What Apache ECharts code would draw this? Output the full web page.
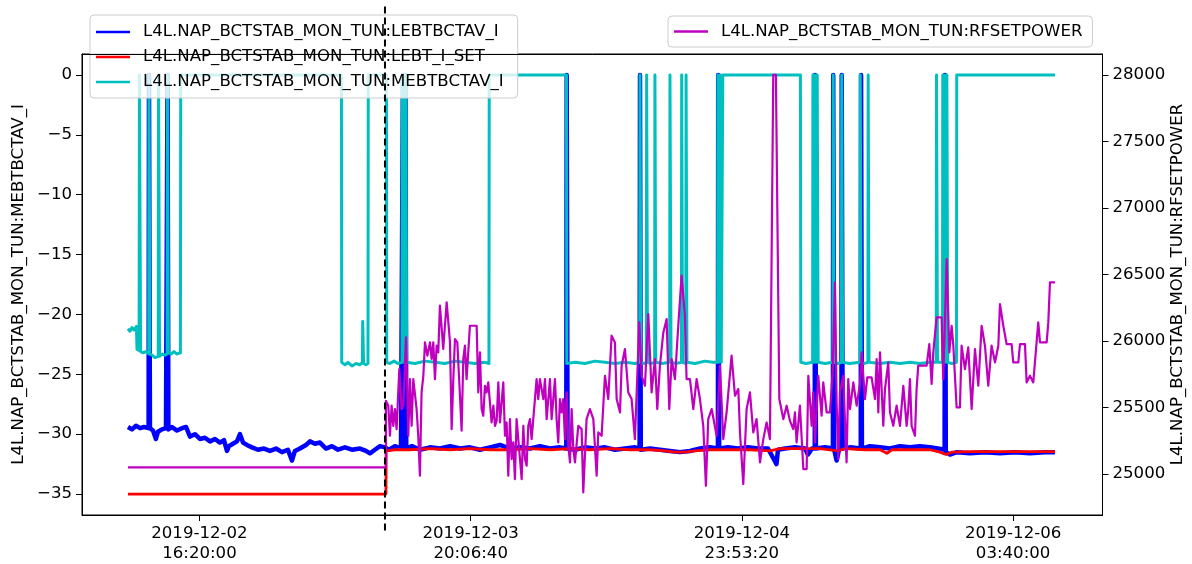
<!DOCTYPE html>
<html>
<head>
<meta charset="utf-8">
<script src="https://cdn.jsdelivr.net/npm/echarts@6.0.0/dist/echarts.min.js"></script>
<style>
html,body{margin:0;padding:0;background:#fff;}
#chart{width:1192px;height:564px;}
</style>
</head>
<body>
<div id="chart"></div>
<script>
// Time unit: hours since 2019-12-02 16:20:00
const T0 = Date.UTC(2019, 11, 2, 16, 20, 0);

const seriesNames = [
  'L4L.NAP_BCTSTAB_MON_TUN:LEBTBCTAV_I',
  'L4L.NAP_BCTSTAB_MON_TUN:LEBT_I_SET',
  'L4L.NAP_BCTSTAB_MON_TUN:MEBTBCTAV_I',
  'L4L.NAP_BCTSTAB_MON_TUN:RFSETPOWER'
];
const leftAxisName = 'L4L.NAP_BCTSTAB_MON_TUN:MEBTBCTAV_I';
const rightAxisName = 'L4L.NAP_BCTSTAB_MON_TUN:RFSETPOWER';

const xTicks = [0, 27.7778, 55.5556, 83.3333];
const leftTicks = [-35, -30, -25, -20, -15, -10, -5, 0];
const rightTicks = [25000, 25500, 26000, 26500, 27000, 27500, 28000];

const xRange = [-12.03, 92.49];
const leftRange = [-36.75, 1.75];
const rightRange = [24692.5, 28157.5];

const dividerT = 19.0;
const dividerSpan = [-38.07, 5.72];

const lebtBctav = [[-7.32,-29.4],[-6.91,-29.6],[-6.50,-29.3],[-6.09,-29.5],[-5.68,-29.4],[-5.21,-29.5],[-5.17,0],[-5.11,0],[-5.07,-29.5],[-4.76,-29.7],[-4.46,-30.4],[-4.25,-29.8],[-3.84,-29.6],[-3.43,-29.5],[-3.30,-29.5],[-3.27,0],[-3.21,0],[-3.18,-29.6],[-2.82,-29.4],[-2.30,-29.7],[-1.79,-29.5],[-1.38,-29.4],[-0.97,-30.2],[-0.46,-30.0],[0.05,-30.4],[0.56,-30.3],[1.08,-30.6],[1.59,-30.4],[2.10,-30.7],[2.51,-30.5],[2.82,-31.4],[3.02,-31.0],[3.43,-30.8],[3.84,-30.6],[4.15,-30.0],[4.46,-30.7],[4.86,-30.9],[5.38,-31.1],[5.99,-31.3],[6.61,-31.2],[7.22,-31.4],[7.84,-31.2],[8.45,-31.5],[9.06,-31.3],[9.47,-32.2],[9.78,-31.4],[10.29,-31.2],[10.91,-30.9],[11.32,-30.6],[11.83,-30.8],[12.34,-30.7],[12.96,-31.2],[13.57,-31.0],[14.19,-31.3],[14.90,-31.1],[15.62,-31.3],[16.44,-31.2],[17.05,-31.4],[17.46,-31.6],[17.97,-31.3],[18.49,-31.0],[19.00,-31.1],[19.41,-31.3],[20.02,-31.0],[20.64,-31.2],[20.82,-31.2],[20.84,0],[20.89,0],[20.92,-31.2],[21.07,-31.2],[21.10,0],[21.15,0],[21.18,-31.2],[21.76,-31.0],[22.58,-31.3],[23.61,-31.1],[24.63,-31.2],[25.66,-31.0],[26.68,-31.2],[27.70,-31.1],[28.73,-31.3],[29.75,-31.1],[30.78,-30.9],[31.80,-31.2],[32.83,-31.1],[33.85,-31.2],[34.87,-31.0],[35.90,-31.2],[36.92,-31.1],[37.57,-31.2],[37.61,0],[37.67,0],[37.70,-31.2],[38.46,-31.3],[39.48,-31.1],[40.51,-31.2],[41.53,-31.1],[42.56,-31.3],[43.58,-31.2],[44.60,-31.1],[45.08,-31.2],[45.12,0],[45.17,0],[45.20,-31.3],[46.14,-31.2],[47.16,-31.3],[48.19,-31.4],[49.21,-31.5],[50.24,-31.4],[51.26,-31.2],[52.29,-31.1],[53.10,-31.2],[53.13,0],[53.20,0],[53.23,-31.2],[54.13,-31.1],[55.15,-31.2],[56.18,-31.1],[57.20,-31.2],[58.23,-31.2],[59.10,-32.5],[59.25,-31.3],[59.97,-31.2],[60.99,-31.1],[62.02,-31.2],[62.32,-31.7],[62.73,-31.2],[63.02,-31.2],[63.04,0],[63.10,0],[63.14,-31.2],[64.06,-31.1],[64.88,-31.2],[64.91,0],[64.96,0],[65.01,-31.3],[65.26,-32.2],[65.50,-31.3],[65.75,-31.2],[65.78,0],[65.85,0],[65.88,-31.2],[66.62,-31.1],[67.73,-31.2],[67.76,0],[67.81,0],[67.85,-31.2],[68.67,-31.0],[69.70,-31.1],[70.72,-31.2],[71.75,-31.0],[72.77,-31.1],[73.79,-31.0],[74.82,-31.1],[75.64,-31.2],[76.32,-31.3],[76.35,0],[76.41,0],[76.44,-31.5],[76.87,-31.7],[77.58,-31.5],[78.91,-31.6],[80.45,-31.5],[81.99,-31.6],[83.52,-31.5],[85.06,-31.6],[86.60,-31.5],[87.62,-31.5]];

const lebtISet = [[-7.32,-35],[19.10,-35],[19.13,-31.4],[20.02,-31.3],[21.56,-31.3],[23.61,-31.2],[25.66,-31.3],[27.70,-31.2],[29.75,-31.3],[31.80,-31.3],[33.85,-31.2],[35.90,-31.3],[37.95,-31.2],[40.00,-31.3],[42.04,-31.2],[44.09,-31.3],[46.14,-31.3],[47.68,-31.4],[48.70,-31.5],[49.72,-31.5],[50.75,-31.4],[52.29,-31.3],[54.33,-31.3],[56.38,-31.3],[58.43,-31.4],[59.45,-31.2],[61.50,-31.2],[63.55,-31.2],[65.40,-31.4],[66.11,-31.2],[68.16,-31.3],[69.70,-31.3],[70.41,-31.6],[70.93,-31.3],[72.77,-31.3],[74.82,-31.3],[75.84,-31.5],[76.46,-31.7],[77.07,-31.5],[78.91,-31.45],[81.99,-31.45],[85.06,-31.45],[87.62,-31.45]];

const mebtBctav = [[-7.32,-21.2],[-7.12,-21.4],[-6.91,-21.1],[-6.71,-21.3],[-6.45,-21.0],[-6.40,-22.9],[-6.18,-23.0],[-6.15,0],[-6.06,0],[-6.03,-23.1],[-5.79,-23.2],[-5.48,-23.1],[-5.20,-23.3],[-5.17,0],[-5.10,0],[-5.07,-23.3],[-4.86,-23.4],[-4.56,-23.6],[-4.22,-23.5],[-4.19,0],[-4.12,0],[-4.09,-23.5],[-3.84,-23.3],[-3.53,-23.4],[-3.31,-23.3],[-3.28,0],[-3.21,0],[-3.18,-23.2],[-2.92,-23.3],[-2.61,-23.1],[-2.30,-23.3],[-1.95,-23.2],[-1.92,0],[14.54,0],[14.57,-24.0],[14.90,-24.2],[15.21,-24.0],[15.62,-24.3],[16.03,-24.1],[16.44,-24.2],[16.69,-24.0],[16.72,-20.6],[16.81,-24.1],[17.05,-24.2],[17.26,-24.1],[17.29,0],[19.15,0],[19.18,-24.0],[19.51,-24.1],[19.92,-23.9],[20.33,-24.1],[20.74,-24.0],[20.77,0],[20.83,0],[20.86,-24],[20.92,-24],[20.96,0],[21.02,0],[21.05,-24],[21.11,-24],[21.14,0],[21.19,0],[21.22,-24.0],[22.07,-24.1],[23.10,-23.9],[24.12,-24.0],[25.14,-24.1],[26.17,-23.9],[27.19,-24.0],[28.22,-24.1],[29.24,-24.0],[29.65,-24.1],[29.68,0],[37.59,0],[37.62,-24.1],[38.46,-24.0],[39.48,-24.1],[40.51,-23.9],[41.53,-24.0],[42.56,-24.1],[43.58,-24.0],[44.60,-24.1],[45.09,-24.0],[45.12,0],[45.18,0],[45.21,-24.0],[45.53,-24.1],[45.77,-24.0],[45.80,0],[45.86,0],[45.89,-24.0],[46.24,-24.1],[46.62,-24.0],[46.65,0],[46.71,0],[46.74,-24.0],[47.37,-24.1],[48.16,-24.0],[48.19,0],[48.27,0],[48.30,-24.0],[48.80,-24.1],[49.36,-24.0],[49.39,0],[49.45,0],[49.48,-24.0],[49.81,-24.1],[49.84,0],[49.90,0],[49.93,-24.0],[50.75,-24.1],[51.77,-23.9],[52.59,-24.0],[53.07,-24.0],[53.10,0],[53.17,0],[53.20,-24.0],[53.31,-24.0],[53.34,0],[53.41,0],[53.44,-24],[53.57,-24],[53.60,0],[61.55,0],[61.59,-24.0],[62.12,-24.1],[62.80,-24.0],[62.83,0],[62.90,0],[62.93,-24],[63.02,-24],[63.05,0],[63.11,0],[63.14,-24],[63.24,-24],[63.27,0],[63.34,0],[63.37,-24.0],[64.06,-24.1],[64.88,-24.0],[64.91,0],[64.97,0],[65.01,-24.0],[65.40,-24.1],[65.75,-24.0],[65.78,0],[65.85,0],[65.88,-24.0],[66.62,-24.1],[67.65,-24.0],[67.68,0],[67.74,0],[67.77,-24.0],[68.06,-24.1],[68.46,-24.0],[68.49,0],[68.55,0],[68.58,-24.0],[69.70,-24.1],[70.72,-24.0],[71.75,-24.1],[72.77,-24.0],[73.79,-24.1],[74.82,-24.0],[75.46,-24.0],[75.49,0],[75.55,0],[75.59,-24.0],[76.10,-24.0],[76.13,0],[76.19,0],[76.22,-24],[76.31,-24],[76.34,0],[76.41,0],[76.44,-24],[76.52,-24],[76.55,0],[76.61,0],[76.64,-24.0],[77.07,-24.1],[77.53,-24.0],[77.56,0],[87.62,0]];

const rfSetPower = [[-7.32,25050],[19.10,25050],[19.10,25551],[19.34,25514],[19.51,25288],[19.68,25514],[19.85,25363],[20.02,25489],[20.19,25338],[20.47,25789],[20.71,25489],[20.88,25514],[21.15,26027],[21.29,25614],[21.39,25288],[21.56,25714],[21.73,25363],[21.90,25714],[22.24,25489],[22.41,25288],[22.58,24988],[22.75,25614],[22.93,25739],[23.10,25990],[23.34,25890],[23.61,25990],[23.78,25865],[23.95,25990],[24.12,25714],[24.29,25965],[24.46,25915],[24.63,26266],[24.80,26266],[24.97,25940],[25.14,26115],[25.32,26291],[25.49,26140],[25.66,25990],[25.83,25338],[26.00,25714],[26.17,26015],[26.41,25990],[26.68,25589],[26.85,25326],[27.02,25865],[27.19,25965],[27.36,25714],[27.53,25915],[27.70,26115],[28.05,26115],[28.39,26115],[28.56,25614],[28.73,25915],[28.90,25489],[29.07,25439],[29.24,25664],[29.41,25614],[29.58,25689],[29.92,25388],[30.10,25514],[30.27,25363],[30.44,25401],[30.61,25689],[30.78,25388],[30.95,25539],[31.12,25689],[31.29,25288],[31.46,25388],[31.63,24988],[31.80,25413],[31.97,25113],[32.14,25238],[32.31,24962],[32.48,25413],[32.83,25113],[33.00,24962],[33.17,25363],[33.34,25113],[33.51,25063],[33.68,25363],[33.85,25413],[34.02,25263],[34.19,25413],[34.53,25714],[34.70,25564],[34.87,25714],[35.22,25564],[35.39,25714],[35.56,25413],[35.90,25714],[36.07,25413],[36.41,25714],[36.58,25413],[36.75,25238],[36.92,25564],[37.09,25464],[37.26,25564],[37.43,25263],[37.61,25614],[37.78,25213],[37.95,25088],[38.12,25489],[38.29,25188],[38.46,25088],[38.80,25363],[39.14,25338],[39.31,24862],[39.65,25413],[39.99,25489],[40.34,25413],[40.68,24988],[40.85,25313],[41.19,25288],[41.53,25739],[41.87,25564],[42.21,26040],[42.55,25990],[42.73,25564],[43.07,25464],[43.24,25815],[43.58,25940],[43.92,25614],[44.26,25564],[44.60,25263],[45.05,26140],[45.29,25739],[45.63,25664],[45.97,26203],[46.31,25614],[46.65,25865],[46.89,25489],[47.16,25815],[47.51,26065],[47.85,26165],[48.12,25489],[48.36,25865],[48.70,25714],[49.04,26115],[49.38,26491],[49.72,26190],[49.89,25714],[50.24,25714],[50.58,25489],[50.92,25714],[51.26,25564],[51.60,25363],[51.87,24912],[52.11,25413],[52.46,25489],[52.97,25288],[53.31,25815],[53.65,25263],[53.99,25464],[54.50,25890],[54.85,25589],[55.19,25639],[55.36,25313],[55.70,24925],[56.04,25489],[56.38,25614],[56.72,25313],[57.06,25413],[57.41,25088],[57.75,25263],[58.09,25388],[58.43,25263],[58.77,28000],[59.04,28000],[59.39,25564],[59.80,25413],[60.14,25514],[60.48,25400],[60.82,25338],[60.99,25464],[61.16,25238],[61.50,25514],[61.85,25038],[62.19,25038],[62.36,25739],[62.70,25363],[62.87,25614],[63.04,25238],[63.38,25739],[63.72,25439],[63.89,25689],[64.24,25464],[64.58,25464],[64.85,25764],[65.09,26441],[65.26,25539],[65.43,25113],[65.60,25614],[65.94,25739],[66.11,25413],[66.28,25088],[66.45,25714],[66.63,25489],[66.97,25689],[67.31,25514],[67.65,25677],[67.82,25915],[68.16,25564],[68.40,25727],[68.84,25727],[69.19,25564],[69.36,25865],[69.53,25464],[69.70,25915],[70.04,25363],[70.21,25639],[70.55,25840],[70.72,25464],[71.06,25363],[71.40,25514],[71.75,25363],[72.09,25664],[72.43,25363],[72.60,25489],[72.77,25714],[72.94,25363],[73.28,25288],[73.45,25639],[73.62,25815],[74.14,25815],[74.48,25815],[74.75,25977],[74.99,25677],[75.16,25915],[75.50,26178],[76.01,26178],[76.18,25714],[76.53,26616],[76.80,25915],[77.04,26115],[77.21,25965],[77.55,25501],[77.89,25501],[78.06,25965],[78.40,25789],[78.74,25952],[79.09,25489],[79.43,25940],[79.77,25664],[80.11,26115],[80.45,25965],[80.79,25664],[81.13,25965],[81.48,25840],[81.82,25965],[81.99,26278],[82.33,26115],[82.67,25977],[83.18,25977],[83.35,25840],[83.87,25840],[84.04,25977],[84.55,25977],[84.72,25689],[85.06,25739],[85.40,25689],[85.57,25840],[85.91,26140],[86.09,25990],[86.77,25990],[86.94,26140],[87.11,26441],[87.62,26441]];

const colors = ['#0000ff', '#ff0000', '#00bfbf', '#bf00bf'];
const FONT = 'DejaVu Sans';
const FS = 16.6;

function pad2(n) { return String(n).padStart(2, '0'); }
function fmtTime(h) {
  const d = new Date(T0 + Math.round(h * 3600) * 1000);
  return d.getUTCFullYear() + '-' + pad2(d.getUTCMonth() + 1) + '-' + pad2(d.getUTCDate()) +
    '\n' + pad2(d.getUTCHours()) + ':' + pad2(d.getUTCMinutes()) + ':' + pad2(d.getUTCSeconds());
}

const chart = echarts.init(document.getElementById('chart'), null, { renderer: 'canvas' });

const axisLineStyle = { show: true, onZero: false, lineStyle: { color: '#000', width: 1 } };
const tickStyle = { lineStyle: { color: '#000', width: 1 } };
const legendText = { color: '#000', fontFamily: FONT, fontSize: FS, lineHeight: 20, padding: [0, 0, 0, 8] };

function lineSeries(i, data, yIdx, width) {
  return {
    name: seriesNames[i], type: 'line', xAxisIndex: 0, yAxisIndex: yIdx, data: data,
    showSymbol: false, symbol: 'none', silent: true, clip: true,
    lineStyle: { color: colors[i], width: width, join: 'round' },
    itemStyle: { color: colors[i] }
  };
}

chart.setOption({
  animation: false,
  backgroundColor: '#fff',
  textStyle: { fontFamily: FONT },
  grid: { left: 82, right: 89.5, top: 54, bottom: 49, containLabel: false, outerBoundsMode: 'none',
          show: true, borderColor: '#000', borderWidth: 1, backgroundColor: 'transparent' },
  legend: [
    {
      data: seriesNames.slice(0, 3), orient: 'vertical', left: 90, top: 15,
      itemWidth: 34, itemHeight: 2.5, itemGap: 5, icon: 'rect', selectedMode: false,
      padding: [7, 14, 6, 6], backgroundColor: 'rgba(255,255,255,0.8)',
      borderColor: '#cccccc', borderWidth: 1, borderRadius: 4,
      textStyle: legendText
    },
    {
      data: seriesNames.slice(3), orient: 'vertical', left: 668, top: 16,
      itemWidth: 34, itemHeight: 2.5, itemGap: 5, icon: 'rect', selectedMode: false,
      padding: [5.5, 10, 5.5, 6], backgroundColor: 'rgba(255,255,255,0.8)',
      borderColor: '#cccccc', borderWidth: 1, borderRadius: 4,
      textStyle: legendText
    }
  ],
  xAxis: [
    {
      type: 'value', min: xRange[0], max: xRange[1], position: 'bottom',
      axisLine: axisLineStyle,
      axisTick: Object.assign({ show: true, length: 6, customValues: xTicks }, tickStyle),
      axisLabel: { customValues: xTicks, formatter: fmtTime, color: '#000', fontFamily: FONT, fontSize: FS, lineHeight: 19.5, margin: 9 },
      splitLine: { show: false }
    },
    {
      type: 'value', min: xRange[0], max: xRange[1], position: 'top', z: 10,
      axisLine: axisLineStyle, axisTick: { show: false }, axisLabel: { show: false }, splitLine: { show: false }
    }
  ],
  yAxis: [
    {
      type: 'value', min: leftRange[0], max: leftRange[1], position: 'left',
      name: leftAxisName, nameLocation: 'middle', nameRotate: 90, nameGap: 55, nameMoveOverlap: false,
      nameTextStyle: { color: '#000', fontFamily: FONT, fontSize: FS },
      axisLine: axisLineStyle,
      axisTick: Object.assign({ show: true, length: 6, customValues: leftTicks }, tickStyle),
      axisLabel: { customValues: leftTicks, formatter: v => (v < 0 ? '\u2212' + Math.abs(v) : String(v)), color: '#000', fontFamily: FONT, fontSize: FS, margin: 10 },
      splitLine: { show: false }
    },
    {
      type: 'value', min: rightRange[0], max: rightRange[1], position: 'right',
      name: rightAxisName, nameLocation: 'middle', nameRotate: 90, nameGap: 67, nameMoveOverlap: false,
      nameTextStyle: { color: '#000', fontFamily: FONT, fontSize: FS },
      axisLine: axisLineStyle,
      axisTick: Object.assign({ show: true, length: 6, customValues: rightTicks }, tickStyle),
      axisLabel: { customValues: rightTicks, formatter: v => String(v), color: '#000', fontFamily: FONT, fontSize: FS, margin: 10 },
      splitLine: { show: false }
    }
  ],
  series: [
    lineSeries(0, lebtBctav, 0, 4.5),
    lineSeries(1, lebtISet, 0, 2.8),
    lineSeries(2, mebtBctav, 0, 3),
    lineSeries(3, rfSetPower, 1, 2.2)
  ]
});

const pTop = chart.convertToPixel({ xAxisIndex: 0, yAxisIndex: 0 }, [dividerT, dividerSpan[1]]);
const pBot = chart.convertToPixel({ xAxisIndex: 0, yAxisIndex: 0 }, [dividerT, dividerSpan[0]]);
chart.setOption({
  graphic: [{
    type: 'line', z: 100, silent: true,
    shape: { x1: pTop[0], y1: pTop[1], x2: pBot[0], y2: pBot[1] },
    style: { stroke: '#000', lineWidth: 2, lineDash: [7, 4] }
  }]
});
</script>
</body>
</html>
